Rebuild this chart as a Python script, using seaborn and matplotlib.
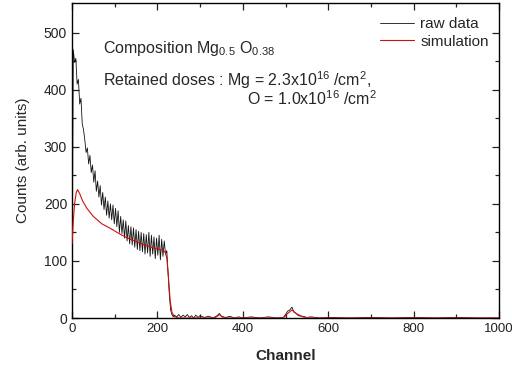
import numpy as np
import pandas as pd
import seaborn as sns
from matplotlib import pyplot as plt

sns.set_style("ticks")
plt.rcParams['font.family'] = ['Liberation Sans', 'DejaVu Sans']
plt.rcParams['mathtext.default'] = 'regular'
plt.rcParams['xtick.direction'] = 'in'
plt.rcParams['ytick.direction'] = 'in'

# raw spectrum
raw_channel = [0, 3, 6, 9, 12, 15, 18, 21, 24, 27, 30, 33, 36, 39, 42, 45, 48, 51, 54, 57,
               60, 63, 66, 69, 72, 75, 78, 81, 84, 87, 90, 93, 96, 99, 102, 105, 108, 111, 114, 117,
               120, 123, 126, 129, 132, 135, 138, 141, 144, 147, 150, 153, 156, 159, 162, 165, 168, 171, 174, 177,
               180, 183, 186, 189, 192, 195, 198, 201, 204, 207, 210, 213, 216, 219, 222, 225, 228, 231, 234, 237,
               240, 245, 250, 255, 260, 265, 270, 275, 280, 285, 290, 295, 300, 310, 320, 330, 340, 345, 350, 360,
               370, 380, 390, 400, 420, 440, 460, 480, 495, 500, 505, 510, 515, 520, 525, 530, 540, 550, 560, 580,
               600, 650, 700, 750, 800, 850, 900, 950, 1000]
raw_counts = [0, 470, 448, 455, 410, 418, 375, 385, 340, 330, 312, 290, 298, 270, 285, 255, 268, 238, 258, 222,
              240, 212, 232, 198, 220, 190, 212, 180, 205, 175, 200, 172, 198, 165, 192, 160, 188, 150, 178, 148,
              172, 140, 170, 135, 162, 130, 160, 128, 158, 124, 155, 120, 152, 118, 150, 116, 148, 112, 146, 114,
              150, 108, 145, 112, 142, 104, 140, 110, 145, 102, 138, 108, 135, 112, 118, 80, 40, 14, 6, 2,
              5, 2, 6, 1, 5, 2, 6, 1, 4, 0, 5, 1, 4, 1, 3, 0, 4, 8, 3, 1,
              3, 0, 2, 0, 2, 0, 2, 0, 1, 6, 12, 14, 19, 10, 8, 4, 3, 1, 2, 0,
              1, 0, 1, 0, 1, 0, 1, 0, 0]

# simulated spectrum
sim_channel = [0, 3, 6, 10, 13, 18, 25, 35, 50, 70, 90, 110, 130, 150, 170, 190, 210, 218, 222, 226,
               230, 234, 240, 250, 335, 345, 355, 495, 505, 515, 525, 540, 555, 1000]
sim_counts = [130, 170, 200, 220, 225, 218, 205, 192, 178, 165, 157, 148, 140, 134, 128, 123, 119, 116, 105, 70,
              30, 10, 2, 0, 0, 6, 0, 0, 8, 14, 8, 2, 0, 0]

raw = pd.DataFrame({"Channel": raw_channel, "Counts": raw_counts})
sim = pd.DataFrame({"Channel": sim_channel, "Counts": sim_counts})

fig = plt.figure(figsize=(5.12, 3.67), dpi=100)
ax = fig.add_axes([72/512, 1-318/367, 427/512, 315/367])
sns.lineplot(data=raw, x="Channel", y="Counts", color="#111111", linewidth=0.6,
             estimator=None, sort=False, label="raw data", zorder=2, ax=ax)
sns.lineplot(data=sim, x="Channel", y="Counts", color="#d01010", linewidth=0.8,
             estimator=None, sort=False, label="simulation", zorder=3, ax=ax)

ax.set_xlim(0, 1000)
ax.set_ylim(0, 552)
ax.set_xticks([0, 200, 400, 600, 800, 1000])
ax.set_xticks([100, 300, 500, 700, 900], minor=True)
ax.set_yticks([0, 100, 200, 300, 400, 500])
ax.set_yticks([50, 150, 250, 350, 450], minor=True)
ax.tick_params(which='both', top=True, right=True, labelsize=10, colors='#222222')
ax.tick_params(axis='x', labelsize=9.5)
ax.tick_params(which='major', length=5, width=0.9)
ax.tick_params(which='minor', length=3, width=0.9)
for s in ax.spines.values():
    s.set_linewidth(1.0)
    s.set_color('black')

ax.set_xlabel("Channel", fontsize=11, fontweight='bold', labelpad=10)
ax.set_ylabel("Counts (arb. units)", fontsize=11, labelpad=10)

ax.text(0.073, 0.857, "Composition Mg$_{0.5}$ O$_{0.38}$", transform=ax.transAxes,
        fontsize=11.5, va='center')
ax.text(0.073, 0.756, "Retained doses : Mg = 2.3x10$^{16}$ /cm$^{2}$,", transform=ax.transAxes,
        fontsize=11.5, va='center')
ax.text(0.41, 0.695, "O = 1.0x10$^{16}$ /cm$^{2}$", transform=ax.transAxes,
        fontsize=11.5, va='center')

ax.legend(loc='upper right', bbox_to_anchor=(0.99, 0.975), frameon=False, fontsize=11,
          handlelength=2.2, handletextpad=0.4, labelspacing=0.25, borderaxespad=0)

fig.savefig("out.png", dpi=100)
